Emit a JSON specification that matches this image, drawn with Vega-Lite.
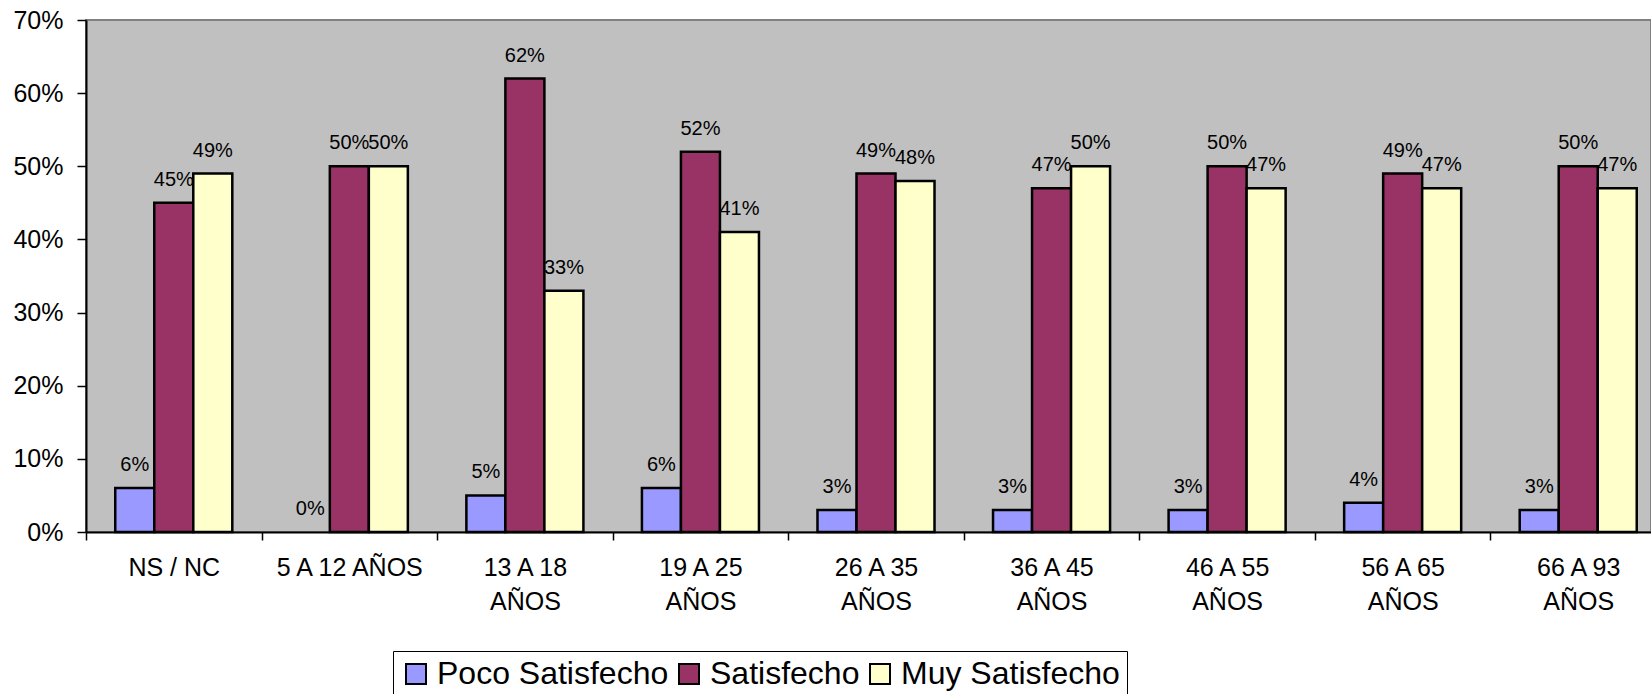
{
  "$schema": "https://vega.github.io/schema/vega-lite/v6.json",
  "autosize": {"type": "none"},
  "padding": {"left": 86, "top": 20, "right": 0, "bottom": 162},
  "width": 1565,
  "height": 512,
  "background": "white",
  "config": {
    "view": {"fill": "#C0C0C0", "stroke": "#808080", "strokeWidth": 2},
    "font": "Liberation Sans"
  },
  "data": {
    "values": [
      {"grupo": "NS / NC", "serie": "Poco Satisfecho", "valor": 0.06},
      {"grupo": "NS / NC", "serie": "Satisfecho", "valor": 0.45},
      {"grupo": "NS / NC", "serie": "Muy Satisfecho", "valor": 0.49},
      {"grupo": "5 A 12 AÑOS", "serie": "Poco Satisfecho", "valor": 0.0},
      {"grupo": "5 A 12 AÑOS", "serie": "Satisfecho", "valor": 0.50},
      {"grupo": "5 A 12 AÑOS", "serie": "Muy Satisfecho", "valor": 0.50},
      {"grupo": "13 A 18 AÑOS", "serie": "Poco Satisfecho", "valor": 0.05},
      {"grupo": "13 A 18 AÑOS", "serie": "Satisfecho", "valor": 0.62},
      {"grupo": "13 A 18 AÑOS", "serie": "Muy Satisfecho", "valor": 0.33},
      {"grupo": "19 A 25 AÑOS", "serie": "Poco Satisfecho", "valor": 0.06},
      {"grupo": "19 A 25 AÑOS", "serie": "Satisfecho", "valor": 0.52},
      {"grupo": "19 A 25 AÑOS", "serie": "Muy Satisfecho", "valor": 0.41},
      {"grupo": "26 A 35 AÑOS", "serie": "Poco Satisfecho", "valor": 0.03},
      {"grupo": "26 A 35 AÑOS", "serie": "Satisfecho", "valor": 0.49},
      {"grupo": "26 A 35 AÑOS", "serie": "Muy Satisfecho", "valor": 0.48},
      {"grupo": "36 A 45 AÑOS", "serie": "Poco Satisfecho", "valor": 0.03},
      {"grupo": "36 A 45 AÑOS", "serie": "Satisfecho", "valor": 0.47},
      {"grupo": "36 A 45 AÑOS", "serie": "Muy Satisfecho", "valor": 0.50},
      {"grupo": "46 A 55 AÑOS", "serie": "Poco Satisfecho", "valor": 0.03},
      {"grupo": "46 A 55 AÑOS", "serie": "Satisfecho", "valor": 0.50},
      {"grupo": "46 A 55 AÑOS", "serie": "Muy Satisfecho", "valor": 0.47},
      {"grupo": "56 A 65 AÑOS", "serie": "Poco Satisfecho", "valor": 0.04},
      {"grupo": "56 A 65 AÑOS", "serie": "Satisfecho", "valor": 0.49},
      {"grupo": "56 A 65 AÑOS", "serie": "Muy Satisfecho", "valor": 0.47},
      {"grupo": "66 A 93 AÑOS", "serie": "Poco Satisfecho", "valor": 0.03},
      {"grupo": "66 A 93 AÑOS", "serie": "Satisfecho", "valor": 0.50},
      {"grupo": "66 A 93 AÑOS", "serie": "Muy Satisfecho", "valor": 0.47}
    ]
  },
  "encoding": {
    "x": {
      "field": "grupo",
      "type": "nominal",
      "sort": null,
      "scale": {"paddingInner": 0, "paddingOuter": 0, "range": [0, 1580]},
      "axis": {
        "title": null,
        "labelAngle": 0,
        "labelFont": "Liberation Sans",
        "labelFontSize": 25,
        "labelColor": "black",
        "labelPadding": 15,
        "labelLineHeight": 34,
        "labelBaseline": "top",
        "tickBand": "extent",
        "tickSize": 8,
        "tickColor": "black",
        "tickWidth": 1.5,
        "domainColor": "black",
        "domainWidth": 2,
        "labelExpr": "!datum.label ? '' : datum.label == 'NS / NC' || datum.label == '5 A 12 AÑOS' ? datum.label : [slice(datum.label, 0, 7), 'AÑOS']"
      }
    },
    "xOffset": {
      "field": "serie",
      "type": "nominal",
      "sort": ["Poco Satisfecho", "Satisfecho", "Muy Satisfecho"],
      "scale": {"paddingInner": 0, "paddingOuter": 0.75}
    },
    "y": {
      "field": "valor",
      "type": "quantitative",
      "scale": {"domain": [0, 0.7], "nice": false},
      "axis": {
        "title": null,
        "format": ".0%",
        "values": [0, 0.1, 0.2, 0.3, 0.4, 0.5, 0.6, 0.7],
        "grid": false,
        "labelFont": "Liberation Sans",
        "labelFontSize": 25,
        "labelColor": "black",
        "labelPadding": 14,
        "tickSize": 9,
        "tickColor": "black",
        "tickWidth": 1.5,
        "domainColor": "black",
        "domainWidth": 2
      }
    }
  },
  "layer": [
    {
      "transform": [{"filter": "datum.valor > 0"}],
      "mark": {"type": "bar", "stroke": "black", "strokeWidth": 2.5},
      "encoding": {
        "color": {
          "field": "serie",
          "type": "nominal",
          "sort": ["Poco Satisfecho", "Satisfecho", "Muy Satisfecho"],
          "scale": {
            "domain": ["Poco Satisfecho", "Satisfecho", "Muy Satisfecho"],
            "range": ["#9999FF", "#993366", "#FFFFCC"]
          },
          "legend": {
            "title": null,
            "orient": "none",
            "direction": "horizontal",
            "legendX": 307,
            "legendY": 631,
            "symbolType": "square",
            "symbolSize": 400,
            "symbolStrokeColor": "black",
            "symbolStrokeWidth": 2,
            "labelFont": "Liberation Sans",
            "labelFontSize": 32,
            "labelColor": "black",
            "labelOffset": 5,
            "labelLimit": 400,
            "columnPadding": 4,
            "padding": 7,
            "strokeColor": "black",
            "fillColor": "white"
          }
        }
      }
    },
    {
      "mark": {
        "type": "text",
        "dy": -17,
        "baseline": "alphabetic",
        "fontSize": 20,
        "font": "Liberation Sans",
        "color": "black"
      },
      "encoding": {
        "text": {"field": "valor", "type": "quantitative", "format": ".0%"}
      }
    }
  ]
}
